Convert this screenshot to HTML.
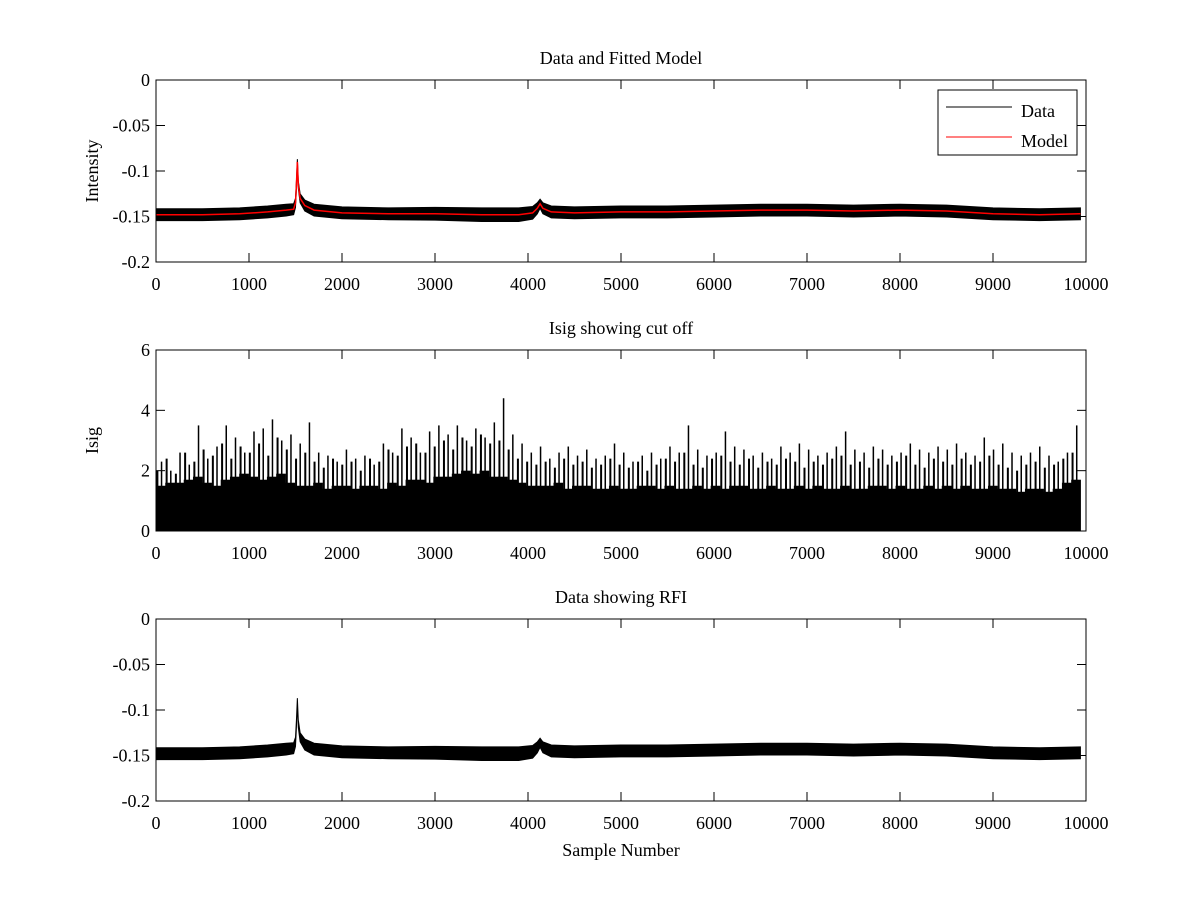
<!DOCTYPE html>
<html><head><meta charset="utf-8"><style>
body{margin:0;background:#fff}
svg text{font-family:"Liberation Serif",serif;font-size:18px;fill:#000}
</style></head><body>
<svg id="fig" width="1200" height="900" viewBox="0 0 1200 900"></svg>
<script>
const xTicks=[0,1000,2000,3000,4000,5000,6000,7000,8000,9000,10000];
const intTicks=[0,-0.05,-0.1,-0.15,-0.2];
const intTickLabels=["0","-0.05","-0.1","-0.15","-0.2"];
const isigTicks=[0,2,4,6];
const modelX=[0,500,900,1200,1400,1480,1500,1510,1520,1530,1550,1600,1700,2000,2500,3000,3500,3900,4050,4100,4130,4160,4250,4500,5000,5500,6000,6500,7000,7500,8000,8500,9000,9500,9940];
const modelY=[-0.148,-0.148,-0.147,-0.145,-0.143,-0.142,-0.135,-0.115,-0.09,-0.115,-0.13,-0.138,-0.143,-0.146,-0.147,-0.147,-0.148,-0.148,-0.146,-0.141,-0.136,-0.141,-0.145,-0.146,-0.145,-0.145,-0.144,-0.143,-0.143,-0.144,-0.143,-0.144,-0.147,-0.148,-0.147];
const dataNoise=[0.0065,0.0065,0.0065,0.0065,0.0065,0.006,0.005,0.004,0.003,0.004,0.005,0.006,0.0065,0.0065,0.0065,0.007,0.0075,0.0075,0.007,0.006,0.005,0.006,0.0065,0.0065,0.0065,0.0065,0.0065,0.0065,0.0065,0.0065,0.0065,0.0065,0.0065,0.0065,0.0065];
const isigPeak=[2.3,2.0,2.6,2.2,3.5,2.4,2.8,3.5,3.1,2.6,3.3,3.4,3.7,3.0,3.2,2.9,3.6,2.6,2.5,2.3,2.7,2.4,2.5,2.2,2.9,2.6,3.4,3.1,2.6,3.3,3.5,3.2,3.5,3.0,3.4,3.1,3.6,4.4,3.2,2.9,2.6,2.8,2.4,2.6,2.8,2.5,2.7,2.4,2.5,2.9,2.6,2.3,2.5,2.6,2.4,2.8,2.6,3.5,2.7,2.5,2.6,3.3,2.8,2.7,2.5,2.6,2.4,2.8,2.6,2.9,2.7,2.5,2.6,2.8,3.3,2.7,2.6,2.8,2.7,2.5,2.6,2.9,2.7,2.6,2.8,2.7,2.9,2.6,2.5,3.1,2.7,2.9,2.6,2.5,2.6,2.8,2.5,2.3,2.6,3.5];
const isigPeak2=[2.0,2.4,1.9,2.6,2.3,2.7,2.5,2.9,2.4,2.8,2.6,2.9,2.5,3.1,2.7,2.4,2.6,2.3,2.1,2.4,2.2,2.3,2.0,2.4,2.3,2.7,2.5,2.8,2.9,2.6,2.8,3.0,2.7,3.1,2.8,3.2,2.9,3.0,2.7,2.4,2.3,2.2,2.3,2.1,2.4,2.2,2.3,2.1,2.2,2.4,2.2,2.1,2.3,2.0,2.2,2.4,2.3,2.6,2.2,2.1,2.4,2.5,2.3,2.2,2.4,2.1,2.3,2.2,2.4,2.3,2.1,2.3,2.2,2.4,2.5,2.2,2.3,2.1,2.4,2.2,2.3,2.5,2.2,2.1,2.4,2.3,2.2,2.4,2.2,2.3,2.5,2.2,2.1,2.0,2.2,2.3,2.1,2.2,2.4,2.6];
const isigBulk=[1.5,1.6,1.6,1.7,1.8,1.6,1.5,1.7,1.8,1.9,1.8,1.7,1.8,1.9,1.6,1.5,1.5,1.6,1.4,1.5,1.5,1.4,1.5,1.5,1.4,1.6,1.5,1.7,1.7,1.6,1.8,1.8,1.9,2.0,1.9,2.0,1.8,1.8,1.7,1.6,1.5,1.5,1.5,1.6,1.4,1.5,1.5,1.4,1.4,1.5,1.4,1.4,1.5,1.5,1.4,1.5,1.4,1.4,1.5,1.4,1.5,1.4,1.5,1.5,1.4,1.4,1.5,1.4,1.4,1.5,1.4,1.5,1.4,1.4,1.5,1.4,1.4,1.5,1.5,1.4,1.5,1.4,1.4,1.5,1.4,1.5,1.4,1.5,1.4,1.4,1.5,1.4,1.4,1.3,1.4,1.4,1.3,1.4,1.6,1.7];
const NS="http://www.w3.org/2000/svg";
const svg=document.getElementById('fig');
function el(t,a,p){const e=document.createElementNS(NS,t);for(const k in a)e.setAttribute(k,a[k]);(p||svg).appendChild(e);return e;}
const X0=156,X1=1086;
const sx=v=>X0+(v/10000)*(X1-X0);
function axes(name,top,bot,ymin,ymax,ticks,labels,title,ylab,xlab){
  const g=el('g',{});
  
  
  const sy=v=>bot-(v-ymin)/(ymax-ymin)*(bot-top);
  const content=el('g',{},g);
  const fr=el('rect',{x:X0,y:top,width:X1-X0,height:bot-top,fill:'none',stroke:'#000','stroke-width':1},g);
  
  
  xTicks.forEach(t=>{const x=sx(t);
    el('line',{x1:x,x2:x,y1:bot,y2:bot-9,stroke:'#000'},g);
    el('line',{x1:x,x2:x,y1:top,y2:top+9,stroke:'#000'},g);
    const tx=el('text',{x:x,y:bot+28,'text-anchor':'middle'},g);tx.textContent=t;
    
    });
  ticks.forEach((t,i)=>{const y=sy(t);
    el('line',{x1:X0,x2:X0+9,y1:y,y2:y,stroke:'#000'},g);
    el('line',{x1:X1,x2:X1-9,y1:y,y2:y,stroke:'#000'},g);
    const tx=el('text',{x:X0-6,y:y+6,'text-anchor':'end'},g);tx.textContent=labels[i];
    
    });
  const tt=el('text',{x:(X0+X1)/2,y:top-16,'text-anchor':'middle'},g);tt.textContent=title;
  
  
  if(ylab){const yl=el('text',{x:0,y:0,'text-anchor':'middle',transform:`translate(${X0-58},${(top+bot)/2}) rotate(-90)`},g);yl.textContent=ylab;
    
    }
  if(xlab){const xl=el('text',{x:(X0+X1)/2,y:bot+55,'text-anchor':'middle'},g);xl.textContent=xlab;
    
    }
  return {content,sy};
}
function dataBand(c,sy){
  let up=modelX.map((x,i)=>sx(x)+','+sy(modelY[i]+dataNoise[i]).toFixed(1));
  let dn=modelX.map((x,i)=>sx(x)+','+sy(modelY[i]-dataNoise[i]).toFixed(1)).reverse();
  const p=el('polygon',{points:up.concat(dn).join(' '),fill:'#000',stroke:'#000','stroke-width':1},c);
  
  
}
const a1=axes('data-and-model-axes',80,262,-0.2,0,intTicks,intTickLabels,'Data and Fitted Model','Intensity',null);
dataBand(a1.content,a1.sy);
const ml=el('polyline',{points:modelX.map((x,i)=>sx(x)+','+a1.sy(modelY[i]).toFixed(1)).join(' '),fill:'none',stroke:'#f00','stroke-width':1.5},a1.content);


const lg=el('g',{});


el('rect',{x:938,y:90,width:139,height:65,fill:'#fff',stroke:'#000'},lg);
el('line',{x1:946,x2:1012,y1:107,y2:107,stroke:'#000'},lg);
el('line',{x1:946,x2:1012,y1:137,y2:137,stroke:'#f00'},lg);
let t1=el('text',{x:1021,y:117},lg);t1.textContent='Data';


let t2=el('text',{x:1021,y:147},lg);t2.textContent='Model';


const a2=axes('isig-axes',350,531,0,6,isigTicks,isigTicks.map(String),'Isig showing cut off','Isig',null);
const bw=isigBulk.length;
isigBulk.forEach((v,i)=>{
  const x0=sx(i*9940/bw),x1=sx((i+1)*9940/bw);
  const r=el('rect',{x:x0,y:a2.sy(v),width:x1-x0+0.5,height:a2.sy(0)-a2.sy(v),fill:'#000'},a2.content);
  
  
});
isigPeak2.forEach((v,i)=>{
  const x=sx((i+0.15)*9940/isigPeak2.length);
  const l=el('line',{x1:x,x2:x,y1:a2.sy(0),y2:a2.sy(v),stroke:'#000','stroke-width':2},a2.content);
  
  
});
isigPeak.forEach((v,i)=>{
  const x=sx((i+0.6)*9940/isigPeak.length);
  const l=el('line',{x1:x,x2:x,y1:a2.sy(0),y2:a2.sy(v),stroke:'#000','stroke-width':1.5},a2.content);
  
  
});
const a3=axes('rfi-axes',619,801,-0.2,0,intTicks,intTickLabels,'Data showing RFI',null,'Sample Number');
dataBand(a3.content,a3.sy);
</script>
</body></html>
